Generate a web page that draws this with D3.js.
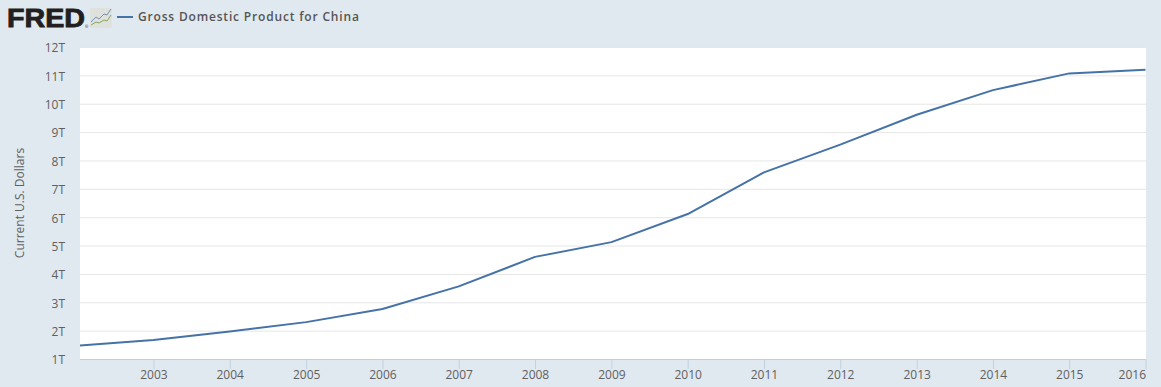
<!DOCTYPE html>
<html>
<head>
<meta charset="utf-8">
<script src="https://cdn.jsdelivr.net/npm/d3@7"></script>
<style>
  html, body { margin: 0; padding: 0; background: #e1e9f0; overflow: hidden; }
  text { font-family: "Open Sans", sans-serif; }
</style>
</head>
<body>
<div class="fred"></div>
<script>
const years = [2002, 2003, 2004, 2005, 2006, 2007, 2008, 2009, 2010, 2011, 2012, 2013, 2014, 2015, 2016]
const gdp = [1.47, 1.67, 1.97, 2.30, 2.76, 3.56, 4.60, 5.12, 6.11, 7.58, 8.56, 9.61, 10.48, 11.07, 11.20]
const yTicks = [1, 2, 3, 4, 5, 6, 7, 8, 9, 10, 11, 12]
const xTicks = years.slice(1)
const seriesName = 'Gross Domestic Product for China'
const yLabel = 'Current U.S. Dollars'

const WIDTH = 1161
const HEIGHT = 387
const MARGIN_LEFT = 80
const MARGIN_RIGHT = 15
const MARGIN_TOP = 47
const MARGIN_BOTTOM = 28
const LINE_COLOR = '#4572a7'

const svg = d3.select('.fred')
  .append('svg')
  .attr('width', WIDTH)
  .attr('height', HEIGHT)
  .style('display', 'block')

const date = y => new Date(y, 0, 1)

/* the plot starts a few days after the first point, so the line is clipped */
const xScale = d3.scaleTime()
  .domain([new Date(2002, 0, 12), date(2016)])
  .range([MARGIN_LEFT - 0.5, WIDTH - MARGIN_RIGHT - 0.5])

const yScale = d3.scaleLinear()
  .domain([1, 12])
  .range([HEIGHT - MARGIN_BOTTOM, MARGIN_TOP])

svg.append('rect')
  .attr('x', MARGIN_LEFT)
  .attr('y', MARGIN_TOP)
  .attr('width', WIDTH - MARGIN_LEFT - MARGIN_RIGHT)
  .attr('height', HEIGHT - MARGIN_TOP - MARGIN_BOTTOM)
  .attr('fill', 'white')

svg.append('clipPath')
  .attr('id', 'plot')
  .append('rect')
  .attr('x', MARGIN_LEFT)
  .attr('y', MARGIN_TOP)
  .attr('width', WIDTH - MARGIN_LEFT - MARGIN_RIGHT)
  .attr('height', HEIGHT - MARGIN_TOP - MARGIN_BOTTOM)

//** AXIS **//
/* Y axis */
const yAxis = d3.axisLeft(yScale)
  .tickValues(yTicks)
  .tickFormat(d => `${d}T`)
  .tickSize(-(WIDTH - MARGIN_LEFT - MARGIN_RIGHT))
  .tickPadding(15)

const lAxis = svg.append('g')
  .attr('transform', `translate(${MARGIN_LEFT}, 0)`)
  .call(yAxis)

lAxis.select('.domain').remove()
lAxis.selectAll('line').attr('stroke', '#e6e6e6')
lAxis.selectAll('text')
  .style('font-size', '12px')
  .attr('fill', '#606060')
  .attr('y', 1)

/* X axis */
const xAxis = d3.axisBottom(xScale)
  .tickValues(xTicks.map(date))
  .tickFormat(d3.timeFormat('%Y'))
  .tickSize(10)
  .tickSizeOuter(0)
  .tickPadding(1)

const bAxis = svg.append('g')
  .attr('transform', `translate(0, ${HEIGHT - MARGIN_BOTTOM})`)
  .call(xAxis)

bAxis.select('.domain').attr('stroke', '#c0d0e0')
bAxis.selectAll('line').attr('stroke', '#c0d0e0')
bAxis.selectAll('text')
  .style('font-size', '12px')
  .attr('fill', '#606060')

// the last label is pushed back inside the chart
bAxis.selectAll('text')
  .filter(d => d.getFullYear() === 2016)
  .attr('text-anchor', 'end')

svg.append('text')
  .attr('transform', `translate(24, ${(MARGIN_TOP + HEIGHT - MARGIN_BOTTOM) / 2}) rotate(-90)`)
  .attr('text-anchor', 'middle')
  .style('font-size', '12px')
  .style('fill', '#606060')
  .text(yLabel)

//** courbe **//
const line = d3.line()
  .x((d, i) => xScale(date(years[i])))
  .y(d => yScale(d))

svg.append('path')
  .datum(gdp)
  .attr('d', line)
  .attr('clip-path', 'url(#plot)')
  .attr('fill', 'none')
  .attr('stroke', LINE_COLOR)
  .attr('stroke-width', 2)
  .attr('stroke-linejoin', 'round')

//** logo + légende **//
const logo = svg.append('g')

logo.append('text')
  .attr('x', 7)
  .attr('y', 27)
  .attr('textLength', 78)
  .attr('lengthAdjust', 'spacingAndGlyphs')
  .style('font-family', '"Liberation Sans", sans-serif')
  .style('font-weight', 'bold')
  .style('font-size', '25px')
  .style('fill', '#231f20')
  .style('stroke', '#231f20')
  .style('stroke-width', 0.8)
  .text('FRED')

logo.append('text')
  .attr('x', 85)
  .attr('y', 28)
  .style('font-size', '4px')
  .style('fill', '#231f20')
  .text('®')

const icon = logo.append('g').attr('transform', 'translate(90, 8)')

icon.append('rect')
  .attr('width', 22)
  .attr('height', 20)
  .attr('rx', 2)
  .attr('fill', '#dfe1dc')

icon.append('path')
  .attr('d', 'M1,14L6,9L9,11L14,6L17,7L21,1')
  .attr('fill', 'none')
  .attr('stroke', '#6f94b5')

icon.append('path')
  .attr('d', 'M1,17L6,14L9,15L14,12L17,13L21,7')
  .attr('fill', 'none')
  .attr('stroke', '#86a95f')

svg.append('line')
  .attr('x1', 117)
  .attr('x2', 133)
  .attr('y1', 17)
  .attr('y2', 17)
  .attr('stroke', LINE_COLOR)
  .attr('stroke-width', 2)

svg.append('text')
  .attr('x', 138)
  .attr('y', 21)
  .style('font-size', '12px')
  .style('font-weight', '600')
  .style('letter-spacing', '0.82px')
  .style('fill', '#555')
  .text(seriesName)
</script>
</body>
</html>
